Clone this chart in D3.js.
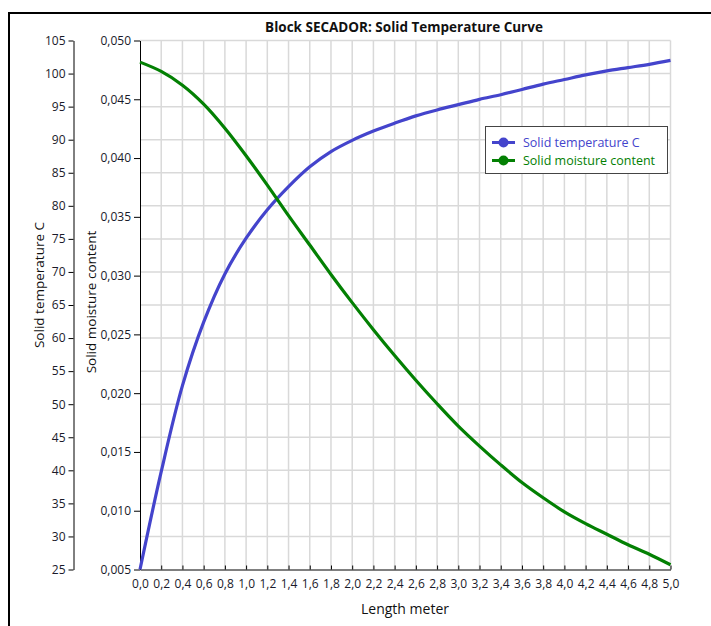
<!DOCTYPE html>
<html>
<head>
<meta charset="utf-8">
<script src="https://cdn.jsdelivr.net/npm/d3@7"></script>
<style>
  html, body { margin: 0; padding: 0; background: #fff; }
  svg { display: block; font-family: "Open Sans", "Noto Sans", sans-serif; }
</style>
</head>
<body>
<svg id="chart" width="711" height="626"></svg>
<script>
const title = "Block SECADOR: Solid Temperature Curve";
const xLabel = "Length meter";
const yTempLabel = "Solid temperature C";
const yMoistLabel = "Solid moisture content";
const seriesNames = ["Solid temperature C", "Solid moisture content"];
const seriesColors = ["#4444cc", "#038003"];

const lengths = [0.0,0.2,0.4,0.6,0.8,1.0,1.2,1.4,1.6,1.8,2.0,2.2,2.4,2.6,2.8,3.0,3.2,3.4,3.6,3.8,4.0,4.2,4.4,4.6,4.8,5.0];
const temperature = [25,39.8,52.8,62.4,69.7,75.1,79.4,82.9,85.9,88.2,89.9,91.3,92.5,93.6,94.5,95.3,96.1,96.8,97.6,98.4,99.1,99.8,100.4,100.9,101.4,102.0];
const moisture = [0.04816,0.04737,0.0462,0.04459,0.04254,0.0402,0.0377,0.0351,0.0326,0.0301,0.0277,0.0254,0.0232,0.0211,0.0191,0.0172,0.0155,0.0139,0.0124,0.0111,0.0099,0.0089,0.0080,0.0071,0.0063,0.0054];

const xTicks = d3.range(0, 26).map(i => i * 0.2);
const tempTicks = d3.range(25, 106, 5);
const moistTicks = d3.range(0, 10).map(i => 0.005 + i * 0.005);

const svg = d3.select("#chart");
const L = 140, R = 670.5, T = 40.5, B = 569.5;

const x = d3.scaleLinear().domain([0, 5]).range([L, R]);
const yT = d3.scaleLinear().domain([25, 105]).range([B, T]);
const yM = d3.scaleLinear().domain([0.005, 0.050]).range([B, T]);

const comma = f => v => f(v).replace(".", ",");

// frame
svg.append("rect").attr("x", 9).attr("y", 13).attr("width", 760).attr("height", 700)
  .attr("fill", "none").attr("stroke", "#000").attr("stroke-width", 2);

// title
svg.append("text").attr("x", 404).attr("y", 32).attr("text-anchor", "middle")
  .attr("font-weight", "bold").attr("font-size", 13.5).attr("fill", "#111").text(title);

// grid
const grid = svg.append("g").attr("stroke", "#d9d9d9").attr("stroke-width", 1.5);
grid.selectAll("line.v").data(xTicks.slice(1)).join("line")
  .attr("x1", d => x(d)).attr("x2", d => x(d)).attr("y1", T).attr("y2", B);
grid.selectAll("line.h").data(tempTicks.slice(1)).join("line")
  .attr("x1", L).attr("x2", R).attr("y1", d => yT(d)).attr("y2", d => yT(d));

// axes
function styleAxis(g) {
  g.selectAll("path.domain").attr("stroke", "#000");
  g.selectAll(".tick line").attr("stroke", "#000");
  g.selectAll(".tick text").attr("fill", "#1a1a2a").attr("font-size", 12)
    .attr("font-family", "'Open Sans', 'Noto Sans', sans-serif");
}
const gx = svg.append("g").attr("transform", `translate(0,${B})`)
  .call(d3.axisBottom(x).tickValues(xTicks).tickFormat(comma(d3.format(".1f"))).tickSizeInner(-4).tickSizeOuter(0).tickPadding(10));
styleAxis(gx);

const gT = svg.append("g").attr("transform", `translate(73.5,0)`)
  .call(d3.axisLeft(yT).tickValues(tempTicks).tickFormat(d3.format("d")).tickSizeInner(5).tickSizeOuter(0).tickPadding(3));
styleAxis(gT);

const gM = svg.append("g").attr("transform", `translate(${L},0)`)
  .call(d3.axisLeft(yM).tickValues(moistTicks).tickFormat(comma(d3.format(".3f"))).tickSizeInner(6).tickSizeOuter(0).tickPadding(3));
styleAxis(gM);

// axis titles
svg.append("text").attr("x", 405).attr("y", 614).attr("text-anchor", "middle")
  .attr("font-size", 14).attr("fill", "#111").text(xLabel);
svg.append("text").attr("transform", `translate(44,${(T + B) / 2 - 20}) rotate(-90)`)
  .attr("text-anchor", "middle").attr("font-size", 13.5).attr("fill", "#111").text(yTempLabel);
svg.append("text").attr("transform", `translate(96,${(T + B) / 2 - 3}) rotate(-90)`)
  .attr("text-anchor", "middle").attr("font-size", 13.5).attr("fill", "#111").text(yMoistLabel);

// lines
const tempData = lengths.map((l, i) => [l, temperature[i]]);
const moistData = lengths.map((l, i) => [l, moisture[i]]);
const lineT = d3.line().x(d => x(d[0])).y(d => yT(d[1])).curve(d3.curveCatmullRom.alpha(0.5));
const lineM = d3.line().x(d => x(d[0])).y(d => yM(d[1])).curve(d3.curveCatmullRom.alpha(0.5));

svg.append("path").datum(tempData).attr("d", lineT).attr("fill", "none")
  .attr("stroke", seriesColors[0]).attr("stroke-width", 3.2).attr("stroke-linejoin", "round");
svg.append("path").datum(moistData).attr("d", lineM).attr("fill", "none")
  .attr("stroke", seriesColors[1]).attr("stroke-width", 3.2).attr("stroke-linejoin", "round");

// legend
const lg = svg.append("g");
lg.append("rect").attr("x", 485.5).attr("y", 126.5).attr("width", 182).attr("height", 47)
  .attr("fill", "#fff").attr("stroke", "#444").attr("stroke-width", 1);
seriesNames.forEach((name, i) => {
  const cy = 142.5 + i * 18;
  lg.append("line").attr("x1", 492).attr("x2", 515).attr("y1", cy).attr("y2", cy)
    .attr("stroke", seriesColors[i]).attr("stroke-width", 3);
  lg.append("circle").attr("cx", 503.5).attr("cy", cy).attr("r", 5).attr("fill", seriesColors[i]);
  lg.append("text").attr("x", 523).attr("y", cy + 4.5).attr("font-size", 12.5)
    .attr("fill", seriesColors[i]).text(name);
});
</script>
</body>
</html>
